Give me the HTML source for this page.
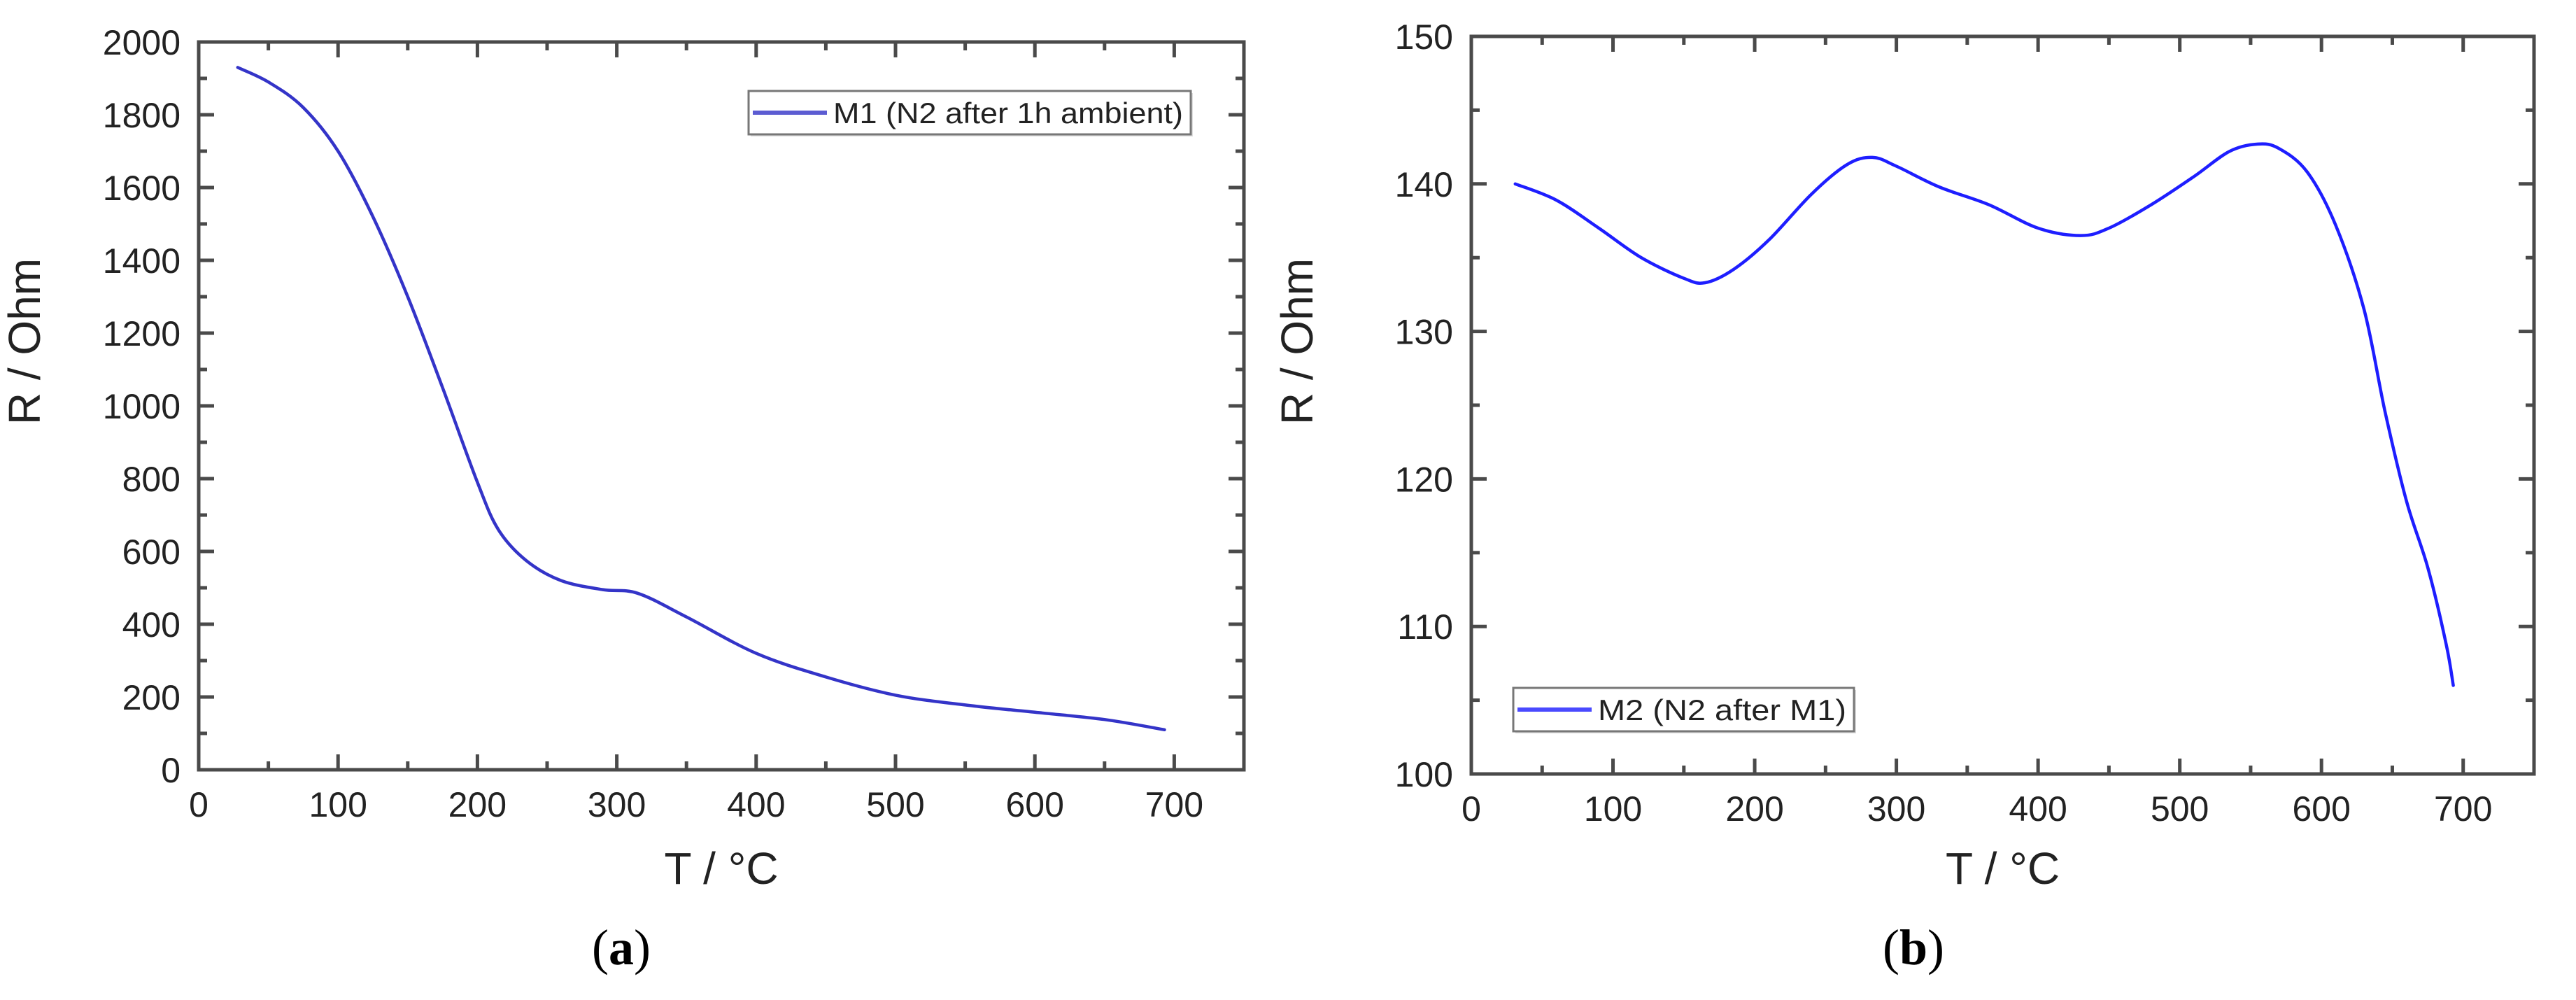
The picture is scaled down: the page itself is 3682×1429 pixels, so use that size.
<!DOCTYPE html>
<html><head><meta charset="utf-8">
<style>
html,body{margin:0;padding:0;background:#fff;}
svg{display:block;font-family:"Liberation Sans",Arial,sans-serif;}
</style></head>
<body>
<svg id="fig" width="3682" height="1429" viewBox="0 0 3682 1429" xmlns="http://www.w3.org/2000/svg"></svg>
<script>
// Panel (a) data
const tempA = [28, 50, 75, 100, 125, 150, 175, 200, 215, 235, 260, 290, 315, 350, 400, 450, 500, 550, 600, 650, 693];
const resA  = [1930, 1890, 1820, 1700, 1520, 1300, 1050, 790, 660, 575, 520, 495, 485, 420, 320, 255, 205, 178, 158, 138, 110];
const yTicksA = [0, 200, 400, 600, 800, 1000, 1200, 1400, 1600, 1800, 2000];
// Panel (b) data
const tempB = [31, 60, 90, 120, 150, 165, 185, 210, 240, 265, 283, 300, 330, 365, 400, 430, 450, 480, 510, 535, 555, 570, 590, 610, 630, 645, 660, 675, 688, 693];
const resB  = [140, 138.9, 137, 135, 133.6, 133.3, 134.2, 136.2, 139.3, 141.3, 141.8, 141.2, 139.8, 138.6, 137, 136.5, 137, 138.6, 140.5, 142.2, 142.7, 142.4, 140.8, 137.2, 131.5, 124.5, 118.5, 114, 108.8, 106];
const yTicksB = [100, 110, 120, 130, 140, 150];
const xTicks = [0, 100, 200, 300, 400, 500, 600, 700];

const NS = "http://www.w3.org/2000/svg";
const svg = document.getElementById('fig');
function mk(tag, attrs, parent, text){
  const e = document.createElementNS(NS, tag);
  for (const k in attrs) e.setAttribute(k, attrs[k]);
  if (text !== undefined) e.textContent = text;
  (parent || svg).appendChild(e);
  return e;
}
function smoothPath(pts){
  let d = "M" + pts[0][0].toFixed(1) + "," + pts[0][1].toFixed(1);
  for (let i = 0; i < pts.length - 1; i++){
    const p0 = pts[Math.max(0, i-1)], p1 = pts[i], p2 = pts[i+1], p3 = pts[Math.min(pts.length-1, i+2)];
    const c1x = p1[0] + (p2[0]-p0[0])/6, c1y = p1[1] + (p2[1]-p0[1])/6;
    const c2x = p2[0] - (p3[0]-p1[0])/6, c2y = p2[1] - (p3[1]-p1[1])/6;
    d += " C" + c1x.toFixed(1) + "," + c1y.toFixed(1) + " " + c2x.toFixed(1) + "," + c2y.toFixed(1) + " " + p2[0].toFixed(1) + "," + p2[1].toFixed(1);
  }
  return d;
}

function panel(cfg){
  const g = mk('g', {});
  
  
  const {L, R, T, B, yMin, yMax, yMinor} = cfg;
  const sx = v => L + (v - 0) / 750 * (R - L);
  const sy = v => B - (v - yMin) / (yMax - yMin) * (B - T);
  const axisColor = '#4a4a4a';
  const tg = mk('g', {stroke: axisColor, 'stroke-width': 5}, g);
  
  
  for (let v = 0; v <= 750; v += 50){
    const x = sx(v), len = (v % 100 === 0) ? 22 : 12;
    mk('line', {x1:x, y1:B, x2:x, y2:B-len}, tg);
    mk('line', {x1:x, y1:T, x2:x, y2:T+len}, tg);
  }
  for (let v = yMin; v <= yMax + 1e-9; v += yMinor){
    const y = sy(v), major = Math.round((v - yMin) / yMinor) % 2 === 0, len = major ? 22 : 12;
    mk('line', {x1:L, y1:y, x2:L+len, y2:y}, tg);
    mk('line', {x1:R, y1:y, x2:R-len, y2:y}, tg);
  }
  const fr = mk('rect', {x:L, y:T, width:R-L, height:B-T, fill:'none', stroke:axisColor, 'stroke-width':5}, g);
  
  
  xTicks.forEach(v => {
    const t = mk('text', {x:sx(v), y:B+67, 'font-size':50, 'text-anchor':'middle', fill:'#222'}, g, String(v));
    
    
  });
  cfg.yTicks.forEach(v => {
    const t = mk('text', {x:L-26, y:sy(v)+18, 'font-size':50, 'text-anchor':'end', fill:'#222'}, g, String(v));
    
    
  });
  const xt = mk('text', {x:(L+R)/2, y:1263, 'font-size':64, 'text-anchor':'middle', fill:'#222'}, g, 'T / °C');
  
  
  const yx = L - 227, yy = 488;
  const yt = mk('text', {x:yx, y:yy, 'font-size':64, 'text-anchor':'middle', fill:'#222', transform:'rotate(-90 '+yx+' '+yy+')'}, g, 'R / Ohm');
  
  
  const pts = cfg.xs.map((x, i) => [sx(x), sy(cfg.ys[i])]);
  const p = mk('path', {d:smoothPath(pts), fill:'none', stroke:cfg.color, 'stroke-width':4.5, 'stroke-linejoin':'round', 'stroke-linecap':'round'}, g);
  
  
  const lg = mk('g', {}, g);
  
  
  const lb = cfg.legend;
  mk('rect', {x:lb.x+3, y:lb.y+3, width:lb.w, height:lb.h, fill:'#ddd', stroke:'none'}, lg);
  mk('rect', {x:lb.x, y:lb.y, width:lb.w, height:lb.h, fill:'#fff', stroke:'#777', 'stroke-width':3}, lg);
  mk('line', {x1:lb.x+6, y1:lb.y+lb.h/2, x2:lb.x+112, y2:lb.y+lb.h/2, stroke:cfg.color, 'stroke-width':6, opacity:0.8}, lg);
  const lt = mk('text', {x:lb.x+121, y:lb.y+lb.h/2+15, 'font-size':42, fill:'#222', textLength:lb.tl, lengthAdjust:'spacingAndGlyphs'}, lg, lb.text);
  
  
  const pl = mk('text', {x:cfg.labelX, y:1378, 'font-size':72, 'text-anchor':'middle', fill:'#000', 'font-family':'"Liberation Serif",serif'}, g);
  
  
  mk('tspan', {}, pl, '(');
  mk('tspan', {'font-weight':'bold'}, pl, cfg.label);
  mk('tspan', {}, pl, ')');
}

panel({name:'panel-a', L:284, R:1778, T:60, B:1100, yMin:0, yMax:2000, yMinor:100, yTicks:yTicksA,
  xs:tempA, ys:resA, color:'#3434c8', seriesName:'series-m1',
  legend:{x:1070, y:130, w:632, h:62, text:'M1 (N2 after 1h ambient)', tl:500}, label:'a', labelX:888});
panel({name:'panel-b', L:2103, R:3622, T:52, B:1106, yMin:100, yMax:150, yMinor:5, yTicks:yTicksB,
  xs:tempB, ys:resB, color:'#1e1eff', seriesName:'series-m2',
  legend:{x:2163, y:983, w:487, h:62, text:'M2 (N2 after M1)', tl:355}, label:'b', labelX:2735});
</script>
</body></html>
